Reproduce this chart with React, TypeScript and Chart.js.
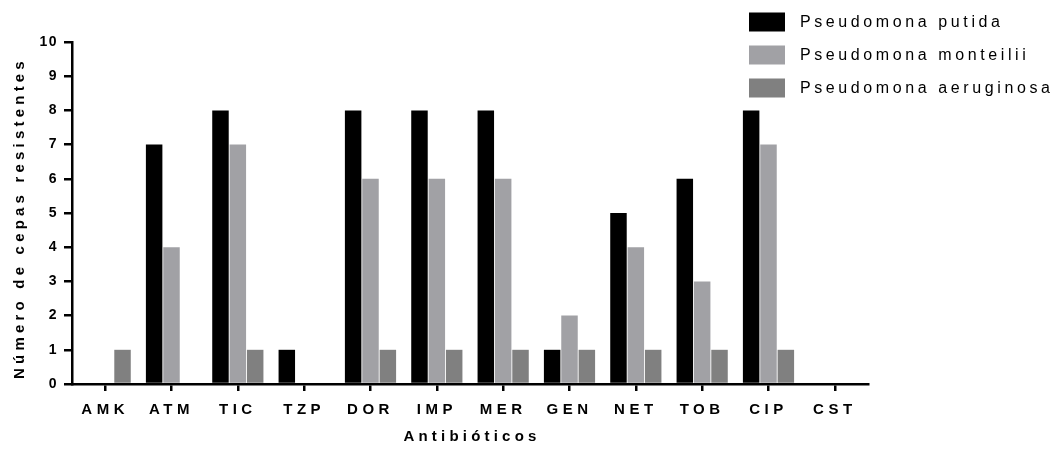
import React, { useEffect, useRef } from "react";
import { Chart, registerables } from "chart.js";

Chart.register(...registerables);

const categories = ["AMK", "ATM", "TIC", "TZP", "DOR", "IMP", "MER", "GEN", "NET", "TOB", "CIP", "CST"];
const putida = [0, 7, 8, 1, 8, 8, 8, 1, 5, 6, 8, 0];
const monteilii = [0, 4, 7, 0, 6, 6, 6, 2, 4, 3, 7, 0];
const aeruginosa = [1, 0, 1, 0, 1, 1, 1, 1, 1, 1, 1, 0];
const seriesNames = ["Pseudomona putida", "Pseudomona monteilii", "Pseudomona aeruginosa"];
const seriesColors = ["#000000", "#a1a1a5", "#808080"];
const xTitle = "Antibióticos";
const yTitle = "Número de cepas resistentes";

const FONT = "Arial, 'Liberation Sans', sans-serif";

const spacingPlugin = {
  id: "spacing",
  beforeDraw(chart: any) {
    const ctx = chart.ctx;
    const wrap = (scale: any, spacing: string) => {
      if (!scale || scale.__wrapped) return;
      const orig = scale.drawLabels.bind(scale);
      scale.drawLabels = (area: any) => {
        ctx.save();
        ctx.letterSpacing = spacing;
        orig(area);
        ctx.restore();
      };
      scale.__wrapped = true;
    };
    wrap(chart.scales.x, "4.5px");
    wrap(chart.scales.y, "1.5px");
  },
};

const titlesLegendPlugin = {
  id: "titlesLegend",
  afterDraw(chart: any) {
    const ctx = chart.ctx;
    const area = chart.chartArea;
    ctx.save();
    ctx.fillStyle = "#000";
    ctx.textBaseline = "middle";
    ctx.textAlign = "center";
    ctx.font = `bold 15px ${FONT}`;
    ctx.letterSpacing = "4.2px";
    ctx.fillText(xTitle, (area.left + area.right) / 2 + 2, 437);
    ctx.save();
    ctx.translate(20, 218);
    ctx.rotate(-Math.PI / 2);
    ctx.fillText(yTitle, 0, 0);
    ctx.restore();

    ctx.letterSpacing = "3.6px";
    ctx.font = `16px ${FONT}`;
    ctx.textAlign = "left";
    seriesNames.forEach((name, i) => {
      const cy = 22 + i * 33;
      ctx.fillStyle = seriesColors[i];
      ctx.fillRect(749, cy - 9.5, 36, 19);
      ctx.fillStyle = "#000";
      ctx.fillText(name, 800, cy + 1);
    });
    ctx.restore();
  },
};

export default function App() {
  const ref = useRef<HTMLCanvasElement>(null);
  useEffect(() => {
    document.body.style.margin = "0";
    const chart = new Chart(ref.current!, {
      type: "bar",
      data: {
        labels: categories,
        datasets: [
          { label: seriesNames[0], data: putida, backgroundColor: seriesColors[0] },
          { label: seriesNames[1], data: monteilii, backgroundColor: seriesColors[1] },
          { label: seriesNames[2], data: aeruginosa, backgroundColor: seriesColors[2] },
        ],
      },
      options: {
        responsive: false,
        animation: false,
        devicePixelRatio: 1,
        layout: { padding: { left: 0, right: 190, top: 42, bottom: 0 } },
        datasets: { bar: { categoryPercentage: 0.785, barPercentage: 0.95 } },
        plugins: { legend: { display: false }, tooltip: { enabled: false } },
        scales: {
          x: {
            afterFit: (s: any) => { s.height = 66; },
            grid: { display: true, offset: false, drawOnChartArea: false, drawTicks: true, tickLength: 7, color: "#000", lineWidth: 2.5 },
            border: { display: true, color: "#000", width: 2.5 },
            ticks: { color: "#000", font: { family: FONT, size: 15, weight: "bold" }, padding: 10, maxRotation: 0, autoSkip: false },
            title: { display: false },
          },
          y: {
            min: 0,
            max: 10,
            afterFit: (s: any) => { s.width = 72; },
            grid: { display: true, drawOnChartArea: false, drawTicks: true, tickLength: 8, color: "#000", lineWidth: 2.5 },
            border: { display: true, color: "#000", width: 2.5 },
            ticks: { stepSize: 1, color: "#000", font: { family: FONT, size: 14, weight: "bold" }, padding: 6 },
            title: { display: false },
          },
        },
      },
      plugins: [spacingPlugin, titlesLegendPlugin],
    });
    return () => chart.destroy();
  }, []);
  return <canvas ref={ref} width={1058} height={450} style={{ display: "block" }} />;
}
